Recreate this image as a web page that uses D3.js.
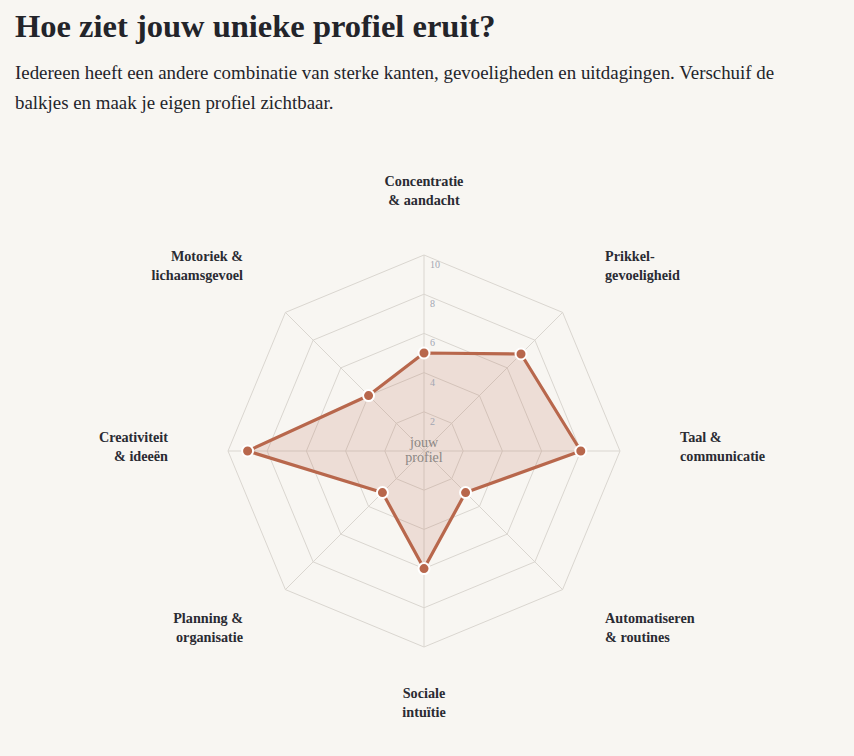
<!DOCTYPE html>
<html>
  <head>
    <meta charset="utf-8">
    <script src="https://d3js.org/d3.v7.min.js"></script>
    <style>
      body {
        margin: 0;
        background: #f8f6f2;
        font-family: "Liberation Serif", "DejaVu Serif", serif;
        color: #23242a;
        width: 854px;
        height: 756px;
        overflow: hidden;
        position: relative;
      }
      h1 {
        margin: 0;
        position: absolute;
        left: 15px;
        top: 7px;
        font-size: 32.5px;
        line-height: 38px;
        font-weight: bold;
      }
      p.intro {
        margin: 0;
        position: absolute;
        left: 15px;
        top: 58px;
        width: 800px;
        font-size: 18.9px;
        line-height: 30px;
      }
      #radar { position: absolute; left: 0; top: 0; }
    </style>
  </head>
  <body>
    <h1>Hoe ziet jouw unieke profiel eruit?</h1>
    <p class="intro">Iedereen heeft een andere combinatie van sterke kanten, gevoeligheden en uitdagingen. Verschuif de balkjes en maak je eigen profiel zichtbaar.</p>
    <div id="radar"></div>

    <script>
    // axes, clockwise from the top
    var labels = [
      ["Concentratie", "& aandacht"],
      ["Prikkel-", "gevoeligheid"],
      ["Taal &", "communicatie"],
      ["Automatiseren", "& routines"],
      ["Sociale", "intuïtie"],
      ["Planning &", "organisatie"],
      ["Creativiteit", "& ideeën"],
      ["Motoriek &", "lichaamsgevoel"]
    ];
    var values = [5, 7, 8, 3, 6, 3, 9, 4];
    var levels = [2, 4, 6, 8, 10];

    var width = 854, height = 756;
    var cx = 424, cy = 451;
    var maxR = 196, labelR = 256;

    var svg = d3.select("#radar")
      .append("svg")
      .attr("width", width)
      .attr("height", height);

    var g = svg.append("g")
      .attr("transform", "translate(" + cx + "," + cy + ")");

    var r = d3.scaleLinear().domain([0, 10]).range([0, maxR]);
    var angle = d3.scaleLinear().domain([0, labels.length]).range([0, 2 * Math.PI]);

    // grid rings (octagons)
    levels.forEach(function (lv) {
      g.append("path")
        .attr("fill", "none")
        .attr("stroke", "#dad6d0")
        .attr("stroke-width", 1)
        .attr("d", d3.lineRadial()
          .angle(function (d, i) { return angle(i); })
          .radius(r(lv))
          .curve(d3.curveLinearClosed)(labels));
    });

    // spokes
    g.selectAll("line.spoke")
      .data(labels)
      .enter().append("line")
      .attr("class", "spoke")
      .attr("x1", 0).attr("y1", 0)
      .attr("x2", function (d, i) { return r(10) * Math.sin(angle(i)); })
      .attr("y2", function (d, i) { return -r(10) * Math.cos(angle(i)); })
      .attr("stroke", "#dad6d0")
      .attr("stroke-width", 1);

    // profile area
    var radial = d3.lineRadial()
      .angle(function (d, i) { return angle(i); })
      .radius(function (d) { return r(d); })
      .curve(d3.curveLinearClosed);

    g.append("path")
      .datum(values)
      .attr("fill", "#b8674c")
      .attr("fill-opacity", 0.17)
      .attr("stroke", "#b8674c")
      .attr("stroke-width", 3.2)
      .attr("stroke-linejoin", "round")
      .attr("d", radial);

    // tick labels along the top spoke
    g.selectAll("text.tick")
      .data(levels)
      .enter().append("text")
      .attr("class", "tick")
      .attr("x", 6)
      .attr("y", function (d) { return -r(d) + 13; })
      .attr("font-size", 10)
      .attr("fill", "#a3a6b2")
      .text(function (d) { return d; });

    // centre text
    g.append("text")
      .attr("text-anchor", "middle")
      .attr("font-size", 14)
      .attr("fill", "#8b8784")
      .selectAll("tspan")
      .data(["jouw", "profiel"])
      .enter().append("tspan")
      .attr("x", 0)
      .attr("y", function (d, i) { return -4 + i * 15; })
      .text(function (d) { return d; });

    // points
    g.selectAll("circle.pt")
      .data(values)
      .enter().append("circle")
      .attr("class", "pt")
      .attr("cx", function (d, i) { return r(d) * Math.sin(angle(i)); })
      .attr("cy", function (d, i) { return -r(d) * Math.cos(angle(i)); })
      .attr("r", 5.5)
      .attr("fill", "#b8674c")
      .attr("stroke", "#ffffff")
      .attr("stroke-width", 2);

    // axis labels
    var lab = g.selectAll("text.axis")
      .data(labels)
      .enter().append("text")
      .attr("class", "axis")
      .attr("font-size", 14.2)
      .attr("font-weight", "bold")
      .attr("fill", "#2a2b33")
      .attr("text-anchor", function (d, i) {
        var s = Math.sin(angle(i));
        if (Math.abs(s) < 0.01) return "middle";
        return s > 0 ? "start" : "end";
      });

    lab.each(function (d, i) {
      var x = labelR * Math.sin(angle(i));
      var y = -labelR * Math.cos(angle(i));
      d3.select(this).selectAll("tspan")
        .data(d)
        .enter().append("tspan")
        .attr("x", x)
        .attr("y", function (t, j) { return y - 9 + j * 19; })
        .text(function (t) { return t; });
    });
    </script>
  </body>
</html>
